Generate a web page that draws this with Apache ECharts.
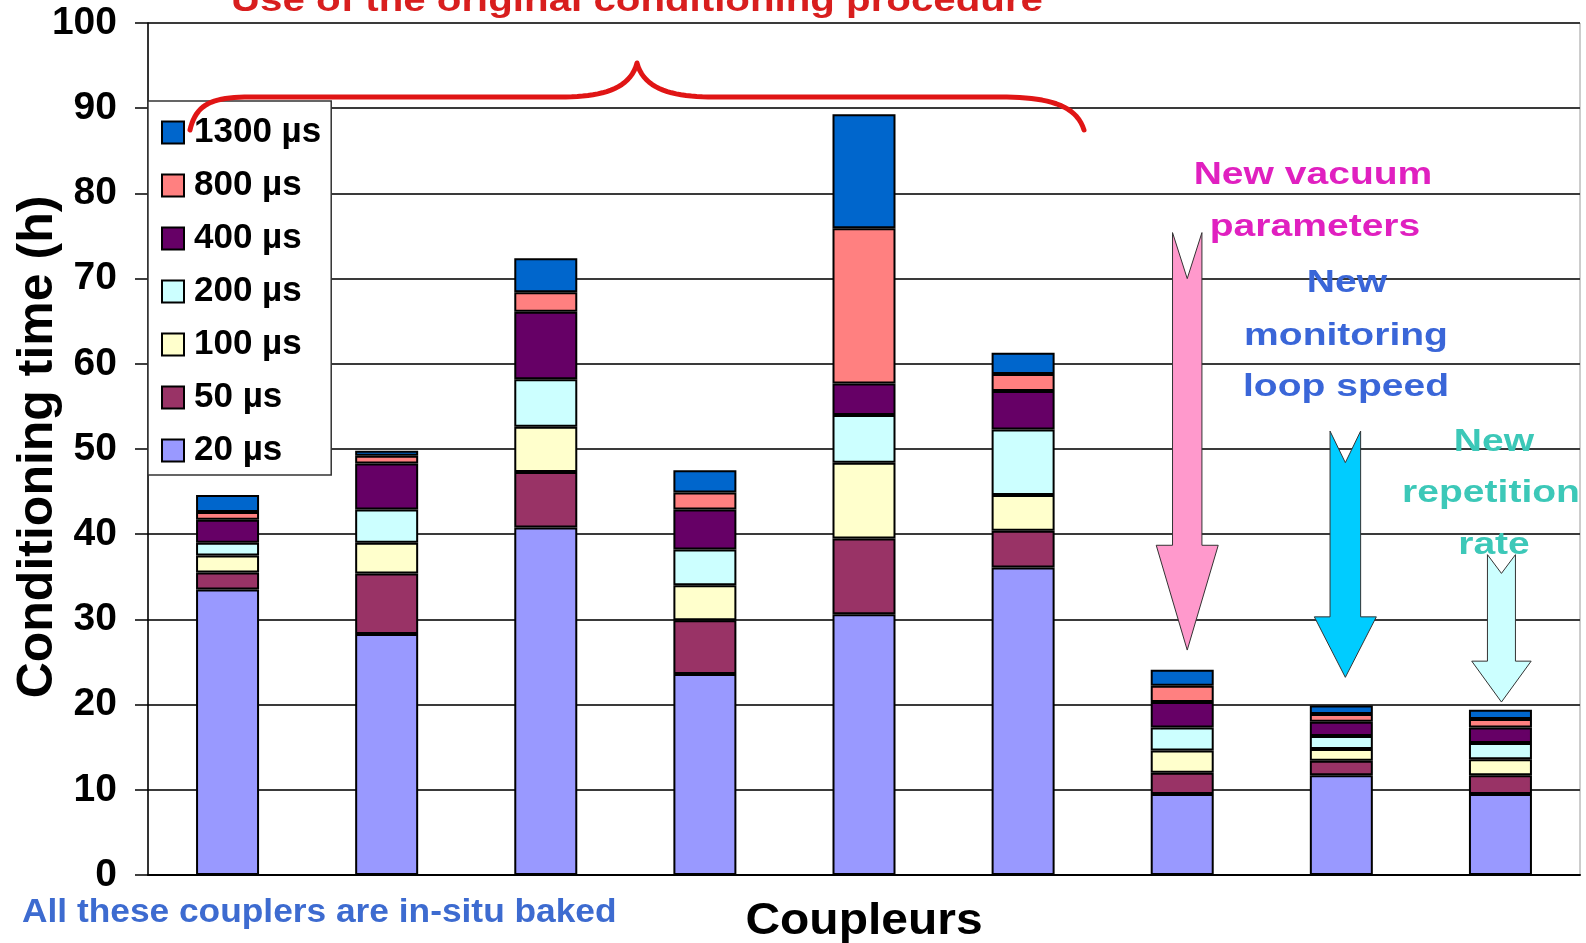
<!DOCTYPE html>
<html>
<head>
<meta charset="utf-8">
<script src="https://cdn.jsdelivr.net/npm/echarts@6/dist/echarts.min.js"></script>
<style>
  html, body { margin: 0; padding: 0; background: #ffffff; }
  #chart { width: 1586px; height: 943px; }
</style>
</head>
<body>
<div id="chart"></div>
<script>
// Couplers (one stacked bar each)
const couplers = ['C1', 'C2', 'C3', 'C4', 'C5', 'C6', 'C7', 'C8', 'C9'];

// Conditioning time (h) spent at each pulse length
const pulse20   = [33.5, 28.3, 40.8, 23.6, 30.6, 36.1, 9.5, 11.7, 9.5];
const pulse50   = [2.0, 7.1, 6.5, 6.3, 8.9, 4.3, 2.5, 1.7, 2.2];
const pulse100  = [2.0, 3.6, 5.3, 4.1, 8.9, 4.2, 2.6, 1.4, 1.9];
const pulse200  = [1.5, 3.9, 5.6, 4.2, 5.6, 7.7, 2.7, 1.5, 1.9];
const pulse400  = [2.7, 5.4, 7.9, 4.7, 3.7, 4.5, 3.0, 1.7, 1.8];
const pulse800  = [0.9, 0.9, 2.3, 2.0, 18.2, 2.0, 1.9, 0.9, 1.0];
const pulse1300 = [2.0, 0.6, 4.0, 2.6, 13.4, 2.5, 1.9, 1.0, 1.1];

const seriesNames = ['20 µs', '50 µs', '100 µs', '200 µs', '400 µs', '800 µs', '1300 µs'];
const seriesData = [pulse20, pulse50, pulse100, pulse200, pulse400, pulse800, pulse1300];
const seriesColors = ['#9999FF', '#993366', '#FFFFCC', '#CCFFFF', '#660066', '#FF8080', '#0066CC'];

// Y axis range and step
const yMin = 0;
const yMax = 100;
const yStep = 10;

const FONT = "'Liberation Sans', Arial, Helvetica, sans-serif";

const chart = echarts.init(document.getElementById('chart'), null, { renderer: 'canvas' });

const option = {
  backgroundColor: '#ffffff',
  animation: false,
  grid: {
    left: 148, right: 6, top: 23, bottom: 68,
    show: true, borderColor: '#9a9a9a', borderWidth: 1, backgroundColor: 'transparent'
  },
  legend: {
    orient: 'vertical',
    left: 148, top: 101,
    data: seriesNames.slice().reverse(),
    backgroundColor: '#ffffff',
    borderColor: '#333333', borderWidth: 1.5,
    padding: [14, 10, 7, 13],
    itemWidth: 22, itemHeight: 22, itemGap: 18,
    icon: 'rect',
    textStyle: { fontFamily: FONT, fontWeight: 'bold', fontSize: 35, color: '#000', lineHeight: 22, padding: [0, 0, 0, 5] },
    z: 5
  },
  xAxis: {
    type: 'category',
    data: couplers,
    axisLine: { show: true, lineStyle: { color: '#000', width: 2 } },
    axisTick: { show: false },
    axisLabel: { show: false },
    splitLine: { show: false }
  },
  yAxis: {
    type: 'value',
    min: yMin, max: yMax, interval: yStep,
    axisLine: { show: true, lineStyle: { color: '#000', width: 1.5 } },
    axisTick: { show: true, length: 13, lineStyle: { color: '#000', width: 1.5 } },
    axisLabel: { fontFamily: FONT, fontWeight: 'bold', fontSize: 39, color: '#000', margin: 31 },
    splitLine: { show: true, lineStyle: { color: '#3a3a3a', width: 2 } }
  },
  series: seriesNames.map((name, i) => ({
    name: name,
    type: 'bar',
    stack: 'time',
    barWidth: 63,
    data: seriesData[i],
    itemStyle: { color: seriesColors[i], borderColor: '#000', borderWidth: 2 },
    emphasis: { disabled: true }
  }))
};

chart.setOption(option);

// ---- annotations ----
function txt(text, x, y, size, color, sx, align) {
  return {
    type: 'text', x: x, y: y, scaleX: sx, z: 20,
    style: {
      text: text, fill: color, font: 'bold ' + size + 'px ' + FONT,
      align: align || 'center', verticalAlign: 'middle',
      textAlign: align || 'center', textVerticalAlign: 'middle'
    }
  };
}

function px(cat, val) {
  return chart.convertToPixel({ gridIndex: 0 }, [cat, val]);
}

// Down arrows: category, x shift, top/notch/head-base/tip values, half widths, fill
const arrows = [
  { cat: 6, dx: 5, top: 75.4, notch: 70.0, head: 38.7, tip: 26.4, hs: 14.7, hh: 31, fill: '#FF99CC' },
  { cat: 7, dx: 4, top: 52.1, notch: 48.4, head: 30.3, tip: 23.2, hs: 15.3, hh: 31, fill: '#00CCFF' },
  { cat: 8, dx: 1, top: 37.6, notch: 35.4, head: 25.1, tip: 20.3, hs: 14, hh: 29.7, fill: '#CCFFFF' }
];

const graphics = arrows.map(a => {
  const cx = px(a.cat, 0)[0] + a.dx;
  const yt = px(a.cat, a.top)[1];
  const yn = px(a.cat, a.notch)[1];
  const yh = px(a.cat, a.head)[1];
  const yp = px(a.cat, a.tip)[1];
  return {
    type: 'polygon', z: 15,
    shape: { points: [
      [cx - a.hs, yt], [cx, yn], [cx + a.hs, yt], [cx + a.hs, yh],
      [cx + a.hh, yh], [cx, yp], [cx - a.hh, yh], [cx - a.hs, yh]
    ] },
    style: { fill: a.fill, stroke: '#333', lineWidth: 1 }
  };
});

// Curly brace over the first six couplers, sampled from cubic segments
function cubicPts(p0, c1, c2, p1, n) {
  const out = [];
  for (let k = 0; k <= n; k++) {
    const t = k / n, u = 1 - t;
    out.push([
      u * u * u * p0[0] + 3 * u * u * t * c1[0] + 3 * u * t * t * c2[0] + t * t * t * p1[0],
      u * u * u * p0[1] + 3 * u * u * t * c1[1] + 3 * u * t * t * c2[1] + t * t * t * p1[1]
    ]);
  }
  return out;
}
const bracePts = [].concat(
  cubicPts([190, 130], [196, 104], [212, 97], [250, 97], 20),
  cubicPts([560, 97], [600, 97], [630, 90], [637, 63], 20),
  cubicPts([637, 63], [644, 90], [674, 97], [714, 97], 20),
  cubicPts([1000, 97], [1046, 97], [1076, 104], [1084, 130], 20)
);
graphics.push({
  type: 'polyline', z: 22,
  shape: { points: bracePts },
  style: { fill: null, stroke: '#E01515', lineWidth: 5, lineCap: 'round', lineJoin: 'round' }
});

graphics.push(txt('Use of the original conditioning procedure', 637, 2, 33, '#D81E1E', 1.22));
graphics.push(txt('New vacuum', 1313, 175, 32, '#E020C0', 1.22));
graphics.push(txt('parameters', 1315, 227, 32, '#E020C0', 1.22));
graphics.push(txt('New', 1347, 283, 32, '#3A66D8', 1.22));
graphics.push(txt('monitoring', 1346, 336, 32, '#3A66D8', 1.22));
graphics.push(txt('loop speed', 1346, 387, 32, '#3A66D8', 1.22));
graphics.push(txt('New', 1494, 442, 32, '#3CC8B8', 1.22));
graphics.push(txt('repetition', 1491, 493, 32, '#3CC8B8', 1.22));
graphics.push(txt('rate', 1494, 545, 32, '#3CC8B8', 1.22));
graphics.push(txt('All these couplers are in-situ baked', 22, 913, 33, '#3D6BD0', 1.07, 'left'));
graphics.push(txt('Coupleurs', 864, 922, 44, '#000', 1.09));

const yTitle = txt('Conditioning time (h)', 38, 447, 50, '#000', 1.0);
yTitle.rotation = Math.PI / 2;
graphics.push(yTitle);

chart.setOption({ graphic: { elements: graphics } });
</script>
</body>
</html>
